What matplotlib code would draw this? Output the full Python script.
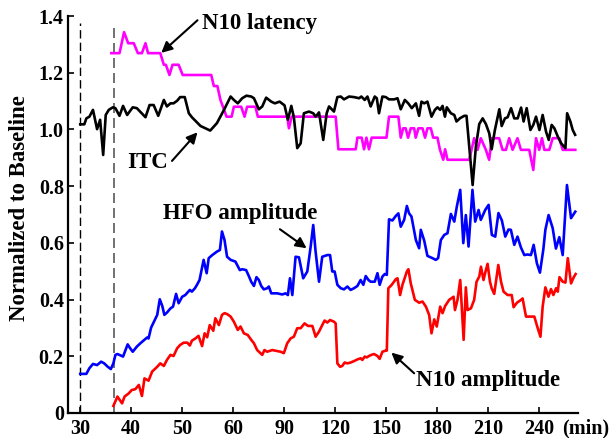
import numpy as np
import matplotlib
matplotlib.use("Agg")
import matplotlib.pyplot as plt

plt.rcParams['font.family'] = ['Liberation Serif', 'DejaVu Serif']
plt.rcParams['font.weight'] = 'bold'
plt.rcParams['axes.labelweight'] = 'bold'

# time (min) / value pairs
lat_t = [36.1, 37.7, 38.6, 39.4, 40.5, 41.3, 42.1, 42.8, 43.3, 45.7, 46.4, 46.8, 47.5, 48.1, 49.3, 50.1,
         55.7, 56.2, 56.9, 57.5, 58.7, 59.7, 60.4, 64.7, 66.7, 68.2, 73.1, 74.5, 91.8, 92.8, 94.4,
         120.3, 121.9, 132.1, 133.1, 135.6, 137.0, 138.4, 139.9, 141.5, 150.2, 151.7, 157.2, 158.6,
         160.0, 161.5, 162.9, 164.5, 166.5, 167.4, 169.0, 171.4, 172.9, 174.3, 176.3, 177.7, 180.2,
         181.6, 183.6, 184.7, 186.1, 198.9, 201.8, 203.8, 205.7, 208.7, 210.6, 212.2, 216.5, 218.5,
         220.5, 222.4, 224.4, 227.3, 229.3, 234.2, 236.6, 238.2, 240.1, 241.7, 243.1, 246.0, 248.0,
         251.9, 253.9, 261.3]
lat_v = [1.269, 1.269, 1.343, 1.304, 1.304, 1.269, 1.269, 1.304, 1.269, 1.269, 1.228, 1.228, 1.192, 1.228, 1.228, 1.192,
         1.192, 1.153, 1.153, 1.104, 1.045, 1.045, 1.080, 1.080, 1.045, 1.080, 1.080, 1.045, 1.045, 1.004, 1.045,
         1.045, 0.930, 0.930, 0.971, 0.971, 0.930, 0.971, 0.930, 0.971, 0.971, 1.045, 1.045, 0.971,
         1.004, 1.004, 0.971, 1.004, 1.004, 0.971, 1.004, 1.004, 0.971, 1.004, 1.004, 0.971, 0.971,
         0.930, 0.893, 0.930, 0.893, 0.893, 0.969, 0.928, 0.969, 0.928, 0.893, 0.969, 0.969, 0.928,
         0.928, 0.969, 0.928, 0.969, 0.928, 0.928, 0.857, 0.969, 0.928, 0.969, 0.928, 0.928, 0.969,
         0.969, 0.928, 0.928]

itc_t = [30.0, 30.8, 31.2, 31.8, 32.5, 33.3, 33.9, 34.5, 35.0, 35.6, 36.4, 36.9, 37.7, 38.4, 39.2, 40.3,
         41.1, 42.8, 43.6, 44.4, 45.3, 46.4, 47.0, 47.7, 48.3, 49.0, 49.6, 50.5, 51.3, 51.9, 53.6, 55.5,
         56.8, 58.2, 59.5, 60.4, 62.7, 65.3, 67.8, 70.6, 72.2, 75.1, 77.1, 79.4, 82.4, 84.5, 87.3, 90.2,
         92.2, 94.2, 95.7, 97.7, 99.7, 101.6, 104.6, 107.1, 108.5, 110.5, 113.0, 115.0, 116.4, 119.3,
         121.3, 123.3, 125.2, 128.2, 131.1, 134.1, 135.4, 137.4, 139.0, 140.9, 143.3, 144.5, 145.8,
         147.8, 149.8, 151.7, 154.7, 156.7, 158.6, 161.0, 163.0, 165.1, 167.5, 169.4, 170.8, 172.4,
         174.3, 176.7, 178.7, 180.2, 181.8, 183.2, 184.6, 185.7, 188.1, 190.1, 191.4, 193.6, 196.0,
         197.3, 198.9, 200.9, 202.8, 204.8, 206.8, 208.7, 210.7, 212.1, 214.0, 216.6, 218.0, 219.9,
         221.5, 223.5, 225.4, 227.4, 229.4, 230.9, 232.7, 234.9, 236.6, 238.2, 240.2, 242.1, 244.1,
         245.7, 247.4, 249.0, 251.0, 253.0, 255.5, 256.5, 258.4, 259.8, 261.2]
itc_v = [1.018, 1.018, 1.039, 1.045, 1.069, 1.001, 1.034, 0.910, 1.051, 1.069, 1.078, 1.075, 1.048, 1.083, 1.051, 1.078,
         1.075, 1.043, 1.086, 1.086, 1.048, 1.104, 1.081, 1.092, 1.092, 1.101, 1.114, 1.114, 1.057, 1.043, 1.012, 0.996,
         1.022, 1.069, 1.116, 1.104, 1.092, 1.110, 1.119, 1.116, 1.110, 1.071, 1.081, 1.112, 1.098, 1.092, 1.098, 1.085,
         1.034, 1.083, 1.043, 0.934, 0.951, 1.057, 1.063, 1.057, 1.045, 1.060, 0.963, 1.057, 1.081, 1.063,
         1.114, 1.116, 1.106, 1.116, 1.114, 1.110, 1.116, 1.104, 1.116, 1.081, 1.116, 1.110, 1.057,
         1.116, 1.114, 1.106, 1.106, 1.110, 1.071, 1.104, 1.092, 1.075, 1.092, 1.048, 1.098, 1.092,
         1.098, 1.045, 1.069, 1.078, 1.069, 1.083, 1.045, 1.078, 1.057, 1.051, 1.028, 1.040, 1.048,
         1.048, 0.939, 0.804, 0.939, 1.019, 1.039, 1.019, 0.986, 0.930, 0.998, 1.071, 1.012, 1.039,
         1.043, 1.075, 1.039, 1.039, 1.077, 1.028, 1.075, 0.998, 1.016, 1.045, 0.998, 1.051, 0.992,
         0.963, 1.016, 1.004, 0.975, 0.951, 0.934, 1.057, 1.028, 0.998, 0.981]

hfo_t = [30.0, 31.2, 31.8, 32.5, 33.3, 34.1, 34.7, 35.4, 36.0, 36.5, 36.9, 37.3, 38.4, 39.3, 39.8, 40.3,
         41.1, 41.8, 42.6, 43.1, 43.4, 43.9, 44.4, 45.1, 45.6, 46.1, 46.5, 47.0, 47.7, 48.2, 48.8, 49.3,
         50.0, 50.6, 51.5, 51.9, 52.5, 52.9, 53.4, 54.2, 54.8, 55.2, 55.9, 56.8, 57.4, 57.8, 58.3, 58.8,
         59.5, 61.3, 63.9, 65.3, 67.6, 69.2, 70.6, 72.2, 73.7, 75.1, 76.5, 78.0, 80.0, 81.0, 82.4, 85.9,
         88.9, 90.8, 92.2, 93.4, 94.8, 96.7, 98.7, 101.2, 103.6, 105.6, 107.1, 108.5, 110.5, 112.4,
         115.4, 117.0, 118.3, 119.7, 121.3, 123.3, 125.2, 127.2, 129.1, 131.1, 133.1, 135.0, 136.6,
         138.0, 139.6, 140.9, 143.3, 144.9, 146.2, 147.8, 149.2, 150.4, 151.7, 153.7, 155.7, 157.2,
         158.6, 160.6, 162.2, 163.5, 164.9, 167.5, 169.4, 170.4, 172.4, 174.3, 177.3, 179.2, 180.6,
         182.2, 184.2, 186.1, 188.1, 190.1, 191.6, 193.6, 195.4, 196.9, 198.5, 200.8, 202.4, 204.4,
         205.7, 208.3, 210.3, 212.2, 214.2, 216.1, 218.1, 220.1, 222.0, 223.4, 225.4, 227.3, 229.3,
         231.3, 233.2, 235.2, 236.8, 238.7, 240.5, 242.5, 243.7, 245.6, 248.0, 249.9, 251.9, 253.9,
         256.4, 258.8, 261.3]
hfo_v = [0.138, 0.138, 0.158, 0.173, 0.169, 0.181, 0.175, 0.163, 0.155, 0.175, 0.205, 0.208, 0.199, 0.242, 0.228, 0.216,
         0.234, 0.246, 0.258, 0.266, 0.263, 0.301, 0.320, 0.346, 0.401, 0.377, 0.346, 0.354, 0.369, 0.375, 0.420, 0.387,
         0.410, 0.416, 0.434, 0.428, 0.440, 0.452, 0.469, 0.540, 0.493, 0.546, 0.557, 0.569, 0.575, 0.640, 0.610, 0.551,
         0.540, 0.534, 0.504, 0.507, 0.504, 0.483, 0.463, 0.448, 0.479, 0.469, 0.448, 0.436, 0.440, 0.446, 0.422, 0.422,
         0.418, 0.422, 0.416, 0.475, 0.416, 0.551, 0.549, 0.475, 0.499, 0.587, 0.663, 0.569, 0.463, 0.551,
         0.557, 0.557, 0.499, 0.499, 0.452, 0.440, 0.436, 0.446, 0.434, 0.440, 0.448, 0.469, 0.452,
         0.483, 0.469, 0.463, 0.463, 0.493, 0.452, 0.481, 0.490, 0.487, 0.683, 0.679, 0.695, 0.704,
         0.657, 0.681, 0.730, 0.704, 0.693, 0.610, 0.581, 0.646, 0.608, 0.554, 0.546, 0.540, 0.546,
         0.610, 0.628, 0.634, 0.702, 0.675, 0.728, 0.787, 0.599, 0.698, 0.587, 0.787, 0.675, 0.716,
         0.681, 0.716, 0.734, 0.628, 0.622, 0.705, 0.679, 0.622, 0.647, 0.646, 0.593, 0.622, 0.584,
         0.557, 0.559, 0.557, 0.593, 0.528, 0.495, 0.577, 0.646, 0.698, 0.652, 0.580, 0.620, 0.557,
         0.804, 0.687, 0.710]

amp_t = [36.5, 37.3, 38.2, 38.7, 39.5, 40.1, 40.8, 41.5, 42.1, 42.6, 43.4, 44.1, 45.1, 45.7, 46.4, 47.0,
         47.7, 48.3, 49.0, 49.6, 50.3, 51.0, 51.5, 51.9, 52.6, 53.2, 53.9, 54.4, 54.9, 55.4, 56.1, 56.5,
         57.2, 57.8, 58.3, 58.8, 59.5, 60.4, 62.7, 64.3, 66.3, 68.6, 70.6, 72.2, 74.1, 77.1, 78.4, 80.0,
         83.0, 87.9, 89.8, 91.8, 93.8, 95.7, 97.7, 99.7, 102.0, 104.0, 106.6, 108.5, 110.5, 112.4,
         113.8, 115.4, 117.0, 119.3, 120.3, 121.3, 122.9, 124.2, 125.6, 127.2, 129.1, 131.1, 133.1,
         135.0, 136.0, 137.4, 138.6, 139.9, 141.3, 142.9, 144.9, 146.2, 147.8, 149.8, 150.4, 151.3,
         153.3, 155.7, 156.7, 158.2, 159.6, 162.2, 163.1, 164.5, 166.9, 169.4, 171.4, 173.4, 175.3,
         176.7, 178.3, 179.8, 181.8, 183.2, 184.7, 187.1, 189.7, 190.5, 192.0, 193.6, 195.6, 196.9,
         197.9, 199.9, 201.8, 203.2, 204.8, 205.8, 207.3, 208.7, 209.7, 211.1, 212.1, 213.6, 216.0,
         217.6, 219.1, 221.5, 223.9, 225.0, 227.0, 229.4, 230.3, 232.3, 234.9, 237.2, 239.2, 240.8,
         242.1, 243.7, 245.5, 247.0, 248.4, 250.0, 251.0, 252.0, 253.9, 255.5, 256.9, 258.8, 260.4,
         261.5]
amp_v = [0.025, 0.058, 0.034, 0.058, 0.069, 0.081, 0.084, 0.099, 0.060, 0.122, 0.114, 0.146, 0.163, 0.175, 0.166, 0.187,
         0.205, 0.201, 0.228, 0.240, 0.248, 0.248, 0.238, 0.255, 0.263, 0.272, 0.236, 0.281, 0.267, 0.310, 0.290, 0.334,
         0.310, 0.346, 0.352, 0.349, 0.340, 0.322, 0.293, 0.305, 0.281, 0.275, 0.258, 0.246, 0.222, 0.205, 0.222, 0.216,
         0.222, 0.216, 0.211, 0.246, 0.263, 0.269, 0.299, 0.299, 0.316, 0.307, 0.307, 0.269, 0.287, 0.310,
         0.326, 0.319, 0.328, 0.322, 0.316, 0.175, 0.163, 0.166, 0.178, 0.175, 0.178, 0.183, 0.189,
         0.193, 0.187, 0.199, 0.196, 0.201, 0.205, 0.208, 0.201, 0.191, 0.216, 0.220, 0.220, 0.440,
         0.452, 0.472, 0.475, 0.416, 0.452, 0.499, 0.507, 0.457, 0.399, 0.389, 0.393, 0.375, 0.346,
         0.281, 0.330, 0.305, 0.375, 0.352, 0.377, 0.399, 0.410, 0.363, 0.399, 0.469, 0.258, 0.443,
         0.363, 0.369, 0.399, 0.463, 0.481, 0.516, 0.469, 0.504, 0.526, 0.463, 0.440, 0.420, 0.522,
         0.463, 0.428, 0.416, 0.416, 0.373, 0.389, 0.399, 0.404, 0.340, 0.340, 0.340, 0.299, 0.269,
         0.375, 0.443, 0.410, 0.437, 0.416, 0.440, 0.428, 0.479, 0.463, 0.460, 0.546, 0.457, 0.479,
         0.490]

x_ticks = [30, 40, 50, 60, 90, 120, 150, 180, 210, 240]
y_ticks = [0, 0.2, 0.4, 0.6, 0.8, 1.0, 1.2, 1.4]
y_labels = ['0', '0.2', '0.4', '0.6', '0.8', '1.0', '1.2', '1.4']
event_times = [30, 36.7]


# broken time axis: 10 min per step up to 60, 30 min per step after
def fwd(t):
    t = np.asarray(t, dtype=float)
    return np.where(t < 60, (t - 30) / 10.0, 3 + (t - 60) / 30.0)


def inv(p):
    p = np.asarray(p, dtype=float)
    return np.where(p < 3, 30 + 10.0 * p, 60 + 30.0 * (p - 3))


fig = plt.figure(figsize=(6.11, 4.38), dpi=100)
ax = fig.add_axes([68 / 611, 1 - 413 / 438, 510 / 611, 397 / 438])
ax.set_xscale('function', functions=(fwd, inv))

ax.axvline(event_times[0], ymax=1.375 / 1.4, color='k', lw=1.0, dashes=(6, 3))
ax.axvline(event_times[1], ymax=1.375 / 1.4, color='0.35', lw=1.2, dashes=(6, 3))

ax.plot(lat_t, lat_v, color='#ff00ff', lw=1.9)
ax.plot(itc_t, itc_v, color='k', lw=1.9)
ax.plot(hfo_t, hfo_v, color='#0000ff', lw=1.9)
ax.plot(amp_t, amp_v, color='#ff0000', lw=1.9)

ax.set_xlim(27.6, 262.9)
ax.set_ylim(0, 1.4)
ax.set_xticks(x_ticks)
ax.set_xticklabels([str(x) for x in x_ticks])
ax.minorticks_off()
ax.set_yticks(y_ticks)
ax.set_yticklabels(y_labels)
ax.tick_params(direction='in', length=4, width=1.2, labelsize=14.5)
ax.tick_params(axis='x', pad=4.5)
ax.tick_params(axis='y', pad=3)

for s in ['top', 'right']:
    ax.spines[s].set_visible(False)
for s in ['left', 'bottom']:
    ax.spines[s].set_linewidth(1.6)

ax.set_ylabel('Normalized to Baseline', fontsize=16.5, fontweight='bold', va='center')
ax.yaxis.set_label_coords(-0.096, 0.515)

fig.text(562 / 611, 1 - 428 / 438, '(min)', fontsize=14.5, ha='left', va='center')

arrow = dict(arrowstyle='-|>', color='k', lw=1.5, mutation_scale=16, shrinkA=0, shrinkB=0)
fs = 16.5
ax.text(53.8, 1.372, 'N10 latency', fontsize=fs, ha='left', va='center')
ax.annotate('', xy=(45.9, 1.27), xytext=(53.0, 1.385), arrowprops=arrow)

ax.text(47.2, 0.882, 'ITC', fontsize=fs, ha='right', va='center')
ax.annotate('', xy=(53.0, 0.99), xytext=(48.0, 0.889), arrowprops=arrow)

ax.text(46.3, 0.705, 'HFO amplitude', fontsize=fs, ha='left', va='center')
ax.annotate('', xy=(103.2, 0.581), xytext=(87.5, 0.648), arrowprops=arrow)

ax.text(167.5, 0.116, 'N10 amplitude', fontsize=fs, ha='left', va='center')
ax.annotate('', xy=(153.1, 0.213), xytext=(166.5, 0.140), arrowprops=arrow)

fig.savefig('out.png', dpi=100)
